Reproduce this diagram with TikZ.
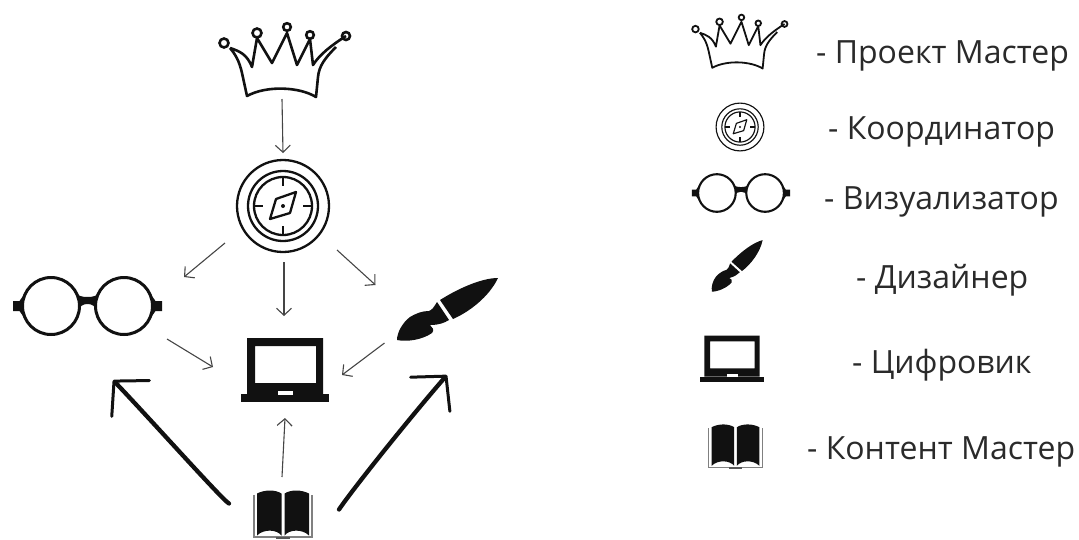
\documentclass[tikz,border=0pt]{standalone}
\usepackage{fontspec}
\setmainfont{Open Sans}
\usetikzlibrary{arrows.meta}
\definecolor{ink}{HTML}{111111}
\definecolor{txt}{HTML}{2A2A2A}
\definecolor{arr}{HTML}{454545}
\tikzset{
  slot/.style={inner sep=0pt,outer sep=0pt,minimum width=#1},
  legendtext/.style={anchor=base west,inner sep=0pt,text=txt,font=\fontsize{32}{36}\selectfont},
  thinarrow/.style={draw=arr,line width=1.1pt,-{Straight Barb[length=7pt,width=15pt,line width=1.1pt]}},
  fatarrow/.style={draw=ink,line width=4.3pt,line cap=round,-{Straight Barb[length=24pt,width=52pt,line width=3pt,round]}},
  pics/crownicon/.style={code={
    \draw[ink,line width=#1,line join=round]
      (-55,-12) .. controls (-46,-9) and (-38,-6) .. (-33,7)
      -- (-28,-22) -- (-13,3) -- (2,-27) -- (12,5) -- (25,-21) -- (28,5)
      .. controls (35,-6) and (47,-15) .. (61,-24)
      (51,-13) .. controls (40,-2) and (34,6) .. (33,17)
      -- (31,37) .. controls (15,27) and (-18,25) .. (-38,36)
      -- (-43,13) .. controls (-46,0) and (-50,-6) .. (-55,-12);
    \draw[ink,line width=#1] (-61,-17) circle (4.5) (-28,-27) circle (4.5) (2,-33) circle (3.8)
      (25,-25) circle (3.8) (61,-24) circle (4);
  }},
  pics/compassicon/.style={code={
    \draw[ink,line width=#1] (0,0) circle (46) (0,0) circle (35) (0,0) circle (29);
    \draw[ink,line width=#1] (0,-28) -- (0,-20) (0,28) -- (0,20) (-28,0) -- (-20,0) (28,0) -- (20,0);
    \draw[ink,line width=#1,line join=round] (13,-14) -- (-7,-7) -- (-13,13) -- (7,7) -- cycle;
    \fill[ink] (0,0) circle (2);
  }},
  pics/glassesicon/.style={code={
    \fill[ink] (-74.5,-5) -- (-68,-5) -- (-61,-15) -- (-61,15) -- (-68,5) -- (-74.5,5) -- cycle;
    \fill[ink] (74.5,-5) -- (68,-5) -- (61,-15) -- (61,15) -- (68,5) -- (74.5,5) -- cycle;
    \fill[ink] (-15,-15) .. controls (-9,-10) and (-6,-9) .. (0,-9)
      .. controls (6,-9) and (9,-10) .. (15,-15) -- (10,5)
      .. controls (7,0) and (5,-2) .. (0,-2) .. controls (-5,-2) and (-7,0) .. (-10,5) -- cycle;
    \draw[ink,line width=#1,fill=white] (-36.5,0) circle (28.5) (36.5,0) circle (28.5);
  }},
  pics/brushicon/.style={code={
    \fill[ink] (51,-31) .. controls (35,-31) and (12,-21) .. (-7,-9)
      -- (6,10) .. controls (22,3) and (42,-12) .. (51,-31) -- cycle;
    \fill[ink] (-10,-7) .. controls (-13,-2) and (-15,1) .. (-18,2)
      .. controls (-25,2) and (-30,4) .. (-37,8)
      .. controls (-45,14) and (-50,24) .. (-50,31)
      .. controls (-40,33) and (-25,31) .. (-15,24)
      .. controls (-12,21) and (-15,18) .. (-17,16)
      .. controls (-8,16) and (-3,14) .. (2,11) -- cycle;
  }},
  pics/laptopicon/.style={code={
    \fill[ink,even odd rule] (-38,-32) rectangle (38,24) (-30,-24) rectangle (31,13);
    \fill[ink] (-44,24) rectangle (44,32);
    \fill[white] (-7,21) rectangle (8,24.5);
  }},
  pics/bookicon/.style={code={
    \fill[ink] (-26,-21) .. controls (-18,-25) and (-8,-25) .. (-1.5,-21)
      -- (-1.5,21) .. controls (-6,15) and (-19,14) .. (-26,21) -- cycle;
    \fill[ink] (26,-21) .. controls (18,-25) and (8,-25) .. (1.5,-21)
      -- (1.5,21) .. controls (6,15) and (19,14) .. (26,21) -- cycle;
    \draw[gray,line width=1.3pt] (-29,-20) -- (-29,22.5) -- (29,22.5) -- (29,-20);
    \fill[ink!70] (-7,22) rectangle (7,24.5);
  }},
}
\begin{document}
\begin{tikzpicture}[x=1pt,y=-1pt]
\useasboundingbox (0,0) rectangle (1079,539);
% main icons: invisible nodes carry the names for the connectors
\node[slot=134pt,minimum height=76pt] (crown) at (285,60) {};
\node[slot=94pt,minimum height=94pt] (compass) at (283,206) {};
\node[slot=149pt,minimum height=62pt] (glasses) at (87.5,306) {};
\node[slot=88pt,minimum height=64pt] (laptop) at (285,370) {};
\node[slot=101pt,minimum height=62pt] (brush) at (447,309) {};
\node[slot=60pt,minimum height=49pt] (book) at (283,514.5) {};
\pic at (crown.center) {crownicon=2.6pt};
\pic at (compass.center) {compassicon=2.3pt};
\pic at (glasses.center) {glassesicon=3pt};
\pic at (laptop.center) {laptopicon};
\pic at (brush.center) {brushicon};
\pic at (book.center) {bookicon};
% connectors
\draw[thinarrow] ([shift={(-3,1)}]crown.south) -- ([shift={(0,-6)}]compass.north);
\draw[thinarrow] ([shift={(-11,37)}]compass.west) -- ([shift={(22,-29)}]glasses.east);
\draw[thinarrow] ([shift={(1,9)}]compass.south) -- ([shift={(-1,-22)}]laptop.north);
\draw[thinarrow] ([shift={(7,44)}]compass.east) -- ([shift={(-21,-24)}]brush.west);
\draw[thinarrow] ([shift={(5,33)}]glasses.east) -- ([shift={(-28,-3)}]laptop.west);
\draw[thinarrow] ([shift={(-12,34)}]brush.west) -- ([shift={(13,5)}]laptop.east);
\draw[thinarrow] ([shift={(-1,-13)}]book.north) -- ([shift={(0,16)}]laptop.south);
\draw[fatarrow] ([shift={(-24,-11)}]book.west) .. controls +(-6,-3) and +(40,42) .. ([shift={(25.5,43)}]glasses.south);
\draw[fatarrow] ([shift={(26,-5)}]book.east) .. controls +(12,-18) and +(-40,46) .. ([shift={(0,35)}]brush.south);
% legend
\pic[scale=.73] (lcrown) at (740,41.5) {crownicon=1.8pt};
\pic[scale=.52] (lcompass) at (740,127) {compassicon=1.15pt};
\pic[scale=.66] (lglasses) at (741,193) {glassesicon=2.1pt};
\pic[scale=.61,rotate=14] (lbrush) at (737,266) {brushicon};
\pic[scale=.73] (llaptop) at (732,359) {laptopicon};
\pic[scale=.92] (lbook) at (735.5,446.5) {bookicon};
\node[legendtext] (t1) at (816,63) {- Проект Мастер};
\node[legendtext] (t2) at (828,139) {- Координатор};
\node[legendtext] (t3) at (824,209) {- Визуализатор};
\node[legendtext] (t4) at (856,288) {- Дизайнер};
\node[legendtext] (t5) at (852,373) {- Цифровик};
\node[legendtext] (t6) at (807,459) {- Контент Мастер};
\end{tikzpicture}
\end{document}
